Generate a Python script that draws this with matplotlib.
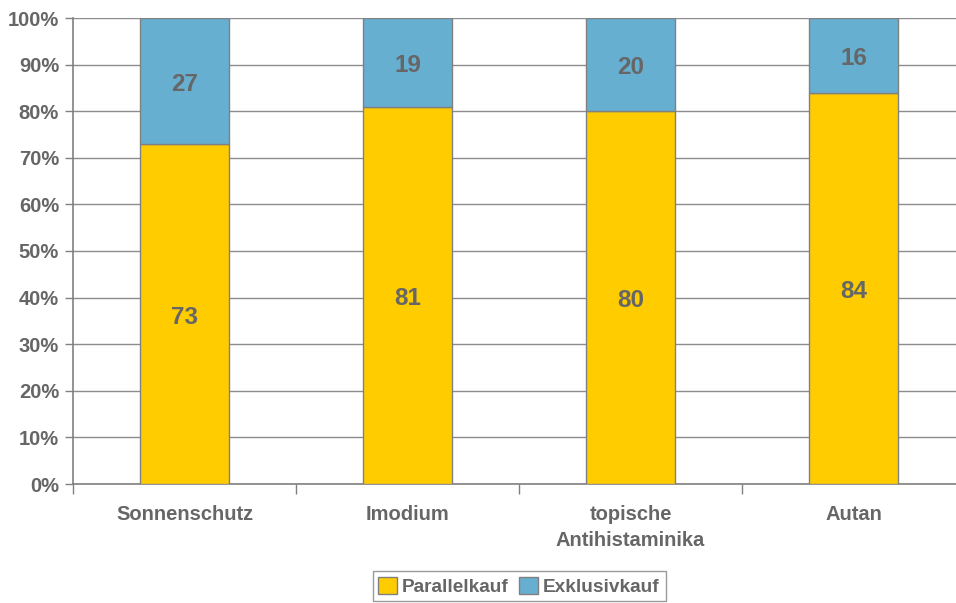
import matplotlib
matplotlib.use('Agg')
import matplotlib.pyplot as plt
import numpy as np

# data
categories = ['Sonnenschutz', 'Imodium', 'topische\nAntihistaminika', 'Autan']
parallelkauf = [73, 81, 80, 84]
exklusivkauf = [27, 19, 20, 16]
yticks = [0, 10, 20, 30, 40, 50, 60, 70, 80, 90, 100]

plt.rcParams['font.family'] = ['Liberation Sans', 'DejaVu Sans']
txt = '#666666'
edge = '#808080'

fig = plt.figure(figsize=(9.56, 6.03), dpi=100)
ax = fig.add_axes([73 / 956, 1 - 484 / 603, 892 / 956, 466 / 603])

x = np.arange(len(categories))
w = 0.4
b1 = ax.bar(x, parallelkauf, w, color='#FFCC00', edgecolor=edge, linewidth=1, zorder=3,
            label='Parallelkauf')
b2 = ax.bar(x, exklusivkauf, w, bottom=parallelkauf, color='#67AFD1', edgecolor=edge,
            linewidth=1, zorder=3, label='Exklusivkauf')

# value labels in the middle of each segment
for xi, p, e in zip(x, parallelkauf, exklusivkauf):
    ax.text(xi, p / 2 - 0.7, str(p), ha='center', va='center', fontsize=17.5,
            fontweight='bold', color=txt, zorder=4)
    ax.text(xi, p + e / 2 - 0.7, str(e), ha='center', va='center', fontsize=17.5,
            fontweight='bold', color=txt, zorder=4)

ax.set_xlim(-0.5, len(categories) - 0.5)
ax.set_ylim(0, 100)
ax.set_yticks(yticks)
ax.set_yticklabels([f'{v}%' for v in yticks])
ax.yaxis.grid(True, color='#8c8c8c', linewidth=1, zorder=0)
ax.set_axisbelow(True)

ax.set_xticks(x)
ax.set_xticklabels(categories)
ax.set_xticks(np.arange(len(categories) + 1) - 0.5, minor=True)
ax.tick_params(axis='x', which='major', length=0, pad=15)
ax.tick_params(axis='x', which='minor', length=7, color=edge, width=1)
ax.tick_params(axis='y', length=6, color=edge, width=1, pad=4)

for lab in ax.get_xticklabels() + ax.get_yticklabels():
    lab.set_fontsize(14.5)
    lab.set_fontweight('bold')
    lab.set_color(txt)
for lab in ax.get_xticklabels():
    lab.set_linespacing(1.5)
    lab.set_verticalalignment('top')

for s in ['top', 'right']:
    ax.spines[s].set_visible(False)
for s in ['left', 'bottom']:
    ax.spines[s].set_color(edge)
    ax.spines[s].set_linewidth(1.2)

leg = fig.legend(handles=[b1, b2], loc='upper center', bbox_to_anchor=(0.543, 1 - 571 / 603),
                 ncol=2, frameon=True, fancybox=False, edgecolor=edge,
                 prop={'weight': 'bold', 'size': 13.7}, handlelength=1.0, handleheight=1.0,
                 handletextpad=0.25, columnspacing=0.55, borderpad=0.3, borderaxespad=0)
for t in leg.get_texts():
    t.set_color(txt)

plt.savefig('out.png', dpi=100)
